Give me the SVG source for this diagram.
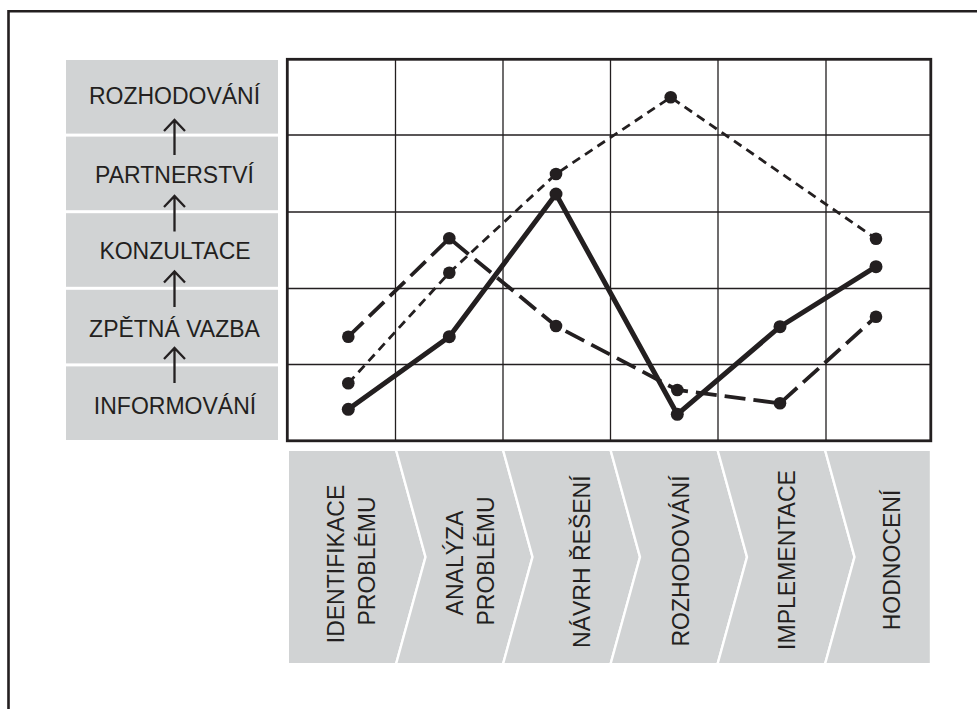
<svg xmlns="http://www.w3.org/2000/svg" width="977" height="709" viewBox="0 0 977 709">
<style>
.lbl{font-family:"Liberation Sans",Arial,sans-serif;font-size:23px;fill:#231f20;text-anchor:middle;}
.box{fill:#d1d3d4;}
.step{fill:#d1d3d4;stroke:#ffffff;stroke-width:2.4;stroke-linejoin:miter;}
.grid{stroke:#231f20;stroke-width:1.3;fill:none;}
.arr{stroke:#231f20;stroke-width:2.3;fill:none;}
.dot{fill:#231f20;}
</style>
<rect width="977" height="709" fill="#ffffff"/>
<path d="M8.5,709 V11.2 H977" fill="none" stroke="#231f20" stroke-width="2.6"/>

<g id="level-rozhodovani"><rect class="box" x="66" y="60" width="212" height="73.6"/><text class="lbl" x="174.5" y="104.3">ROZHODOVÁNÍ</text></g>
<g id="level-partnerstvi"><rect class="box" x="66" y="136.6" width="212" height="73.6"/><text class="lbl" x="174.5" y="182.7">PARTNERSTVÍ</text></g>
<g id="level-konzultace"><rect class="box" x="66" y="213.2" width="212" height="73.6"/><text class="lbl" x="175" y="259.3">KONZULTACE</text></g>
<g id="level-zpetna-vazba"><rect class="box" x="66" y="289.8" width="212" height="73.6"/><text class="lbl" x="174.5" y="336.7">ZPĚTNÁ VAZBA</text></g>
<g id="level-informovani"><rect class="box" x="66" y="366.4" width="212" height="73.6"/><text class="lbl" x="175" y="414.3">INFORMOVÁNÍ</text></g>

<g id="connectors">
<path class="arr" d="M174.5,155 V120 M164,131 L174.5,120 L185,131"/>
<path class="arr" d="M174.5,231.5 V196 M164,207 L174.5,196 L185,207"/>
<path class="arr" d="M174.5,307 V271.5 M164,282.5 L174.5,271.5 L185,282.5"/>
<path class="arr" d="M174.5,383 V348 M164,359 L174.5,348 L185,359"/>
</g>

<g id="chart">
<path class="grid" d="M395.5,59 V441 M503,59 V441 M610.5,59 V441 M718,59 V441 M826,59 V441 M287,135 H931 M287,212 H931 M287,288.5 H931 M287,364.5 H931"/>
<rect x="287.3" y="59.3" width="643.5" height="381.5" fill="none" stroke="#231f20" stroke-width="2.8"/>
</g>

<g id="series-short-dash">
<polyline points="348.3,383.3 449.3,272.7 556,174 670.7,97.3 876,238.7" fill="none" stroke="#231f20" stroke-width="2.8" stroke-dasharray="9,6"/>
<circle class="dot" cx="348.3" cy="383.3" r="6.3"/><circle class="dot" cx="449.3" cy="272.7" r="6.3"/><circle class="dot" cx="556" cy="174" r="6.3"/><circle class="dot" cx="670.7" cy="97.3" r="6.3"/><circle class="dot" cx="876" cy="238.7" r="6.3"/>
</g>
<g id="series-long-dash">
<polyline points="348.3,336.7 449.3,238.3 556,326 677.3,390 780,403.3 876,316.7" fill="none" stroke="#231f20" stroke-width="3.8" stroke-dasharray="21,8"/>
<circle class="dot" cx="348.3" cy="336.7" r="6.3"/><circle class="dot" cx="449.3" cy="238.3" r="6.3"/><circle class="dot" cx="556" cy="326" r="6.3"/><circle class="dot" cx="677.3" cy="390" r="6.3"/><circle class="dot" cx="780" cy="403.3" r="6.3"/><circle class="dot" cx="876" cy="316.7" r="6.3"/>
</g>
<g id="series-solid">
<polyline points="348.3,409.3 449.3,336.7 556,194 677.3,414.3 780,326.7 876,266.7" fill="none" stroke="#231f20" stroke-width="5" stroke-linejoin="miter"/>
<circle class="dot" cx="348.3" cy="409.3" r="6.5"/><circle class="dot" cx="449.3" cy="336.7" r="6.5"/><circle class="dot" cx="556" cy="194" r="6.5"/><circle class="dot" cx="677.3" cy="414.3" r="6.5"/><circle class="dot" cx="780" cy="326.7" r="6.5"/><circle class="dot" cx="876" cy="266.7" r="6.5"/>
</g>

<g id="step-identifikace">
<polygon class="step" points="287.8,449.8 396,449.8 425.5,557 396,664.2 287.8,664.2"/>
<text class="lbl" transform="translate(343.5,564) rotate(-90)">IDENTIFIKACE</text>
<text class="lbl" transform="translate(375,561) rotate(-90)">PROBLÉMU</text>
</g>
<g id="step-analyza">
<polygon class="step" points="396,449.8 503,449.8 532.5,557 503,664.2 396,664.2 425.5,557"/>
<text class="lbl" transform="translate(463,563) rotate(-90)">ANALÝZA</text>
<text class="lbl" transform="translate(493.5,561) rotate(-90)">PROBLÉMU</text>
</g>
<g id="step-navrh">
<polygon class="step" points="503,449.8 610.5,449.8 640,557 610.5,664.2 503,664.2 532.5,557"/>
<text class="lbl" transform="translate(590,561.7) rotate(-90)">NÁVRH ŘEŠENÍ</text>
</g>
<g id="step-rozhodovani">
<polygon class="step" points="610.5,449.8 717.5,449.8 747,557 717.5,664.2 610.5,664.2 640,557"/>
<text class="lbl" transform="translate(688.5,561) rotate(-90)">ROZHODOVÁNÍ</text>
</g>
<g id="step-implementace">
<polygon class="step" points="717.5,449.8 825,449.8 854.5,557 825,664.2 717.5,664.2 747,557"/>
<text class="lbl" transform="translate(795,560) rotate(-90)">IMPLEMENTACE</text>
</g>
<g id="step-hodnoceni">
<polygon class="step" points="825,449.8 931,449.8 931,664.2 825,664.2 854.5,557"/>
<text class="lbl" transform="translate(900,560) rotate(-90)">HODNOCENÍ</text>
</g>
</svg>
